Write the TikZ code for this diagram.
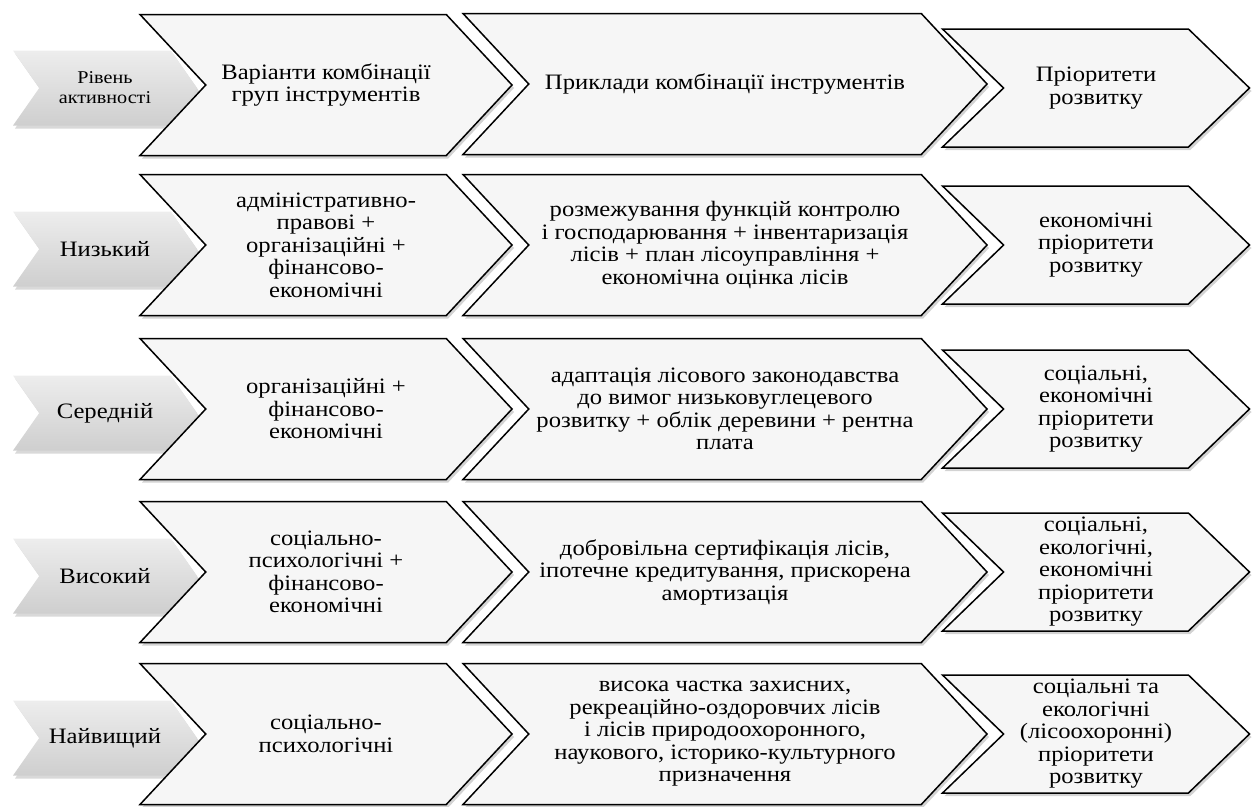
\documentclass[tikz,border=0pt]{standalone}
\usepackage{fontspec}
\setmainfont{Liberation Serif}[FakeStretch=1.12]
\usetikzlibrary{shapes.symbols,shadows}

\begin{document}
\begin{tikzpicture}[x=1pt, y=-1pt,
    chev/.style={signal, signal from=west, signal to=east, draw=black,
      line width=1.5pt, fill=gray!7, inner sep=0pt, align=center,
      drop shadow={opacity=0.35, shadow xshift=2pt, shadow yshift=-3pt},
      font=\fontsize{22}{22.5}\selectfont},
    chevA/.style={chev, signal pointer angle=94, minimum width=372pt, minimum height=141pt},
    chevB/.style={chev, signal pointer angle=94, minimum width=524pt, minimum height=141pt},
    chevC/.style={chev, signal pointer angle=88, minimum width=307pt, minimum height=118pt},
    levchev/.style={signal, signal from=west, signal to=east, signal pointer angle=110,
      top color=gray!14, middle color=white, bottom color=gray!38, inner sep=0pt,
      minimum width=184pt, minimum height=75pt, align=center,
      drop shadow={opacity=0.3, shadow xshift=2pt, shadow yshift=-3pt},
      font=\fontsize{22}{22.5}\selectfont}]
    \useasboundingbox (0,0) rectangle (1255,806);

    % header
    \node[levchev, font=\fontsize{18}{20}\selectfont] (lvl) at (105,88) {Рівень\\активності};
    \node[chevA] (grp) at (326,85) {Варіанти комбінації\\груп інструментів};
    \node[chevB] (ex) at (725,84) {Приклади комбінації інструментів};
    \node[chevC] (pri) at (1096,88) {Пріоритети\\розвитку};

    % low
    \node[levchev] (low) at (105,249) {Низький};
    \node[chevA] (grpL) at (326,245) {адміністративно-\\правові +\\організаційні +\\фінансово-\\економічні};
    \node[chevB] (exL) at (725,245) {розмежування функцій контролю\\і господарювання + інвентаризація\\лісів + план лісоуправління +\\економічна оцінка лісів};
    \node[chevC] (priL) at (1096,245) {економічні\\пріоритети\\розвитку};

    % middle
    \node[levchev] (mid) at (105,413) {Середній};
    \node[chevA] (grpM) at (326,409) {організаційні +\\фінансово-\\економічні};
    \node[chevB] (exM) at (725,409) {адаптація лісового законодавства\\до вимог низьковуглецевого\\розвитку + облік деревини + рентна\\плата};
    \node[chevC] (priM) at (1096,409) {соціальні,\\економічні\\пріоритети\\розвитку};

    % high
    \node[levchev] (high) at (105,576) {Високий};
    \node[chevA] (grpH) at (326,572) {соціально-\\психологічні +\\фінансово-\\економічні};
    \node[chevB] (exH) at (725,572) {добровільна сертифікація лісів,\\іпотечне кредитування, прискорена\\амортизація};
    \node[chevC] (priH) at (1096,572) {соціальні,\\екологічні,\\економічні\\пріоритети\\розвитку};

    % highest
    \node[levchev] (top) at (105,738) {Найвищий};
    \node[chevA] (grpT) at (326,734) {соціально-\\психологічні};
    \node[chevB] (exT) at (725,734) {висока частка захисних,\\рекреаційно-оздоровчих лісів\\і лісів природоохоронного,\\наукового, історико-культурного\\призначення};
    \node[chevC] (priT) at (1096,734) {соціальні та\\екологічні\\(лісоохоронні)\\пріоритети\\розвитку};
\end{tikzpicture}
\end{document}
